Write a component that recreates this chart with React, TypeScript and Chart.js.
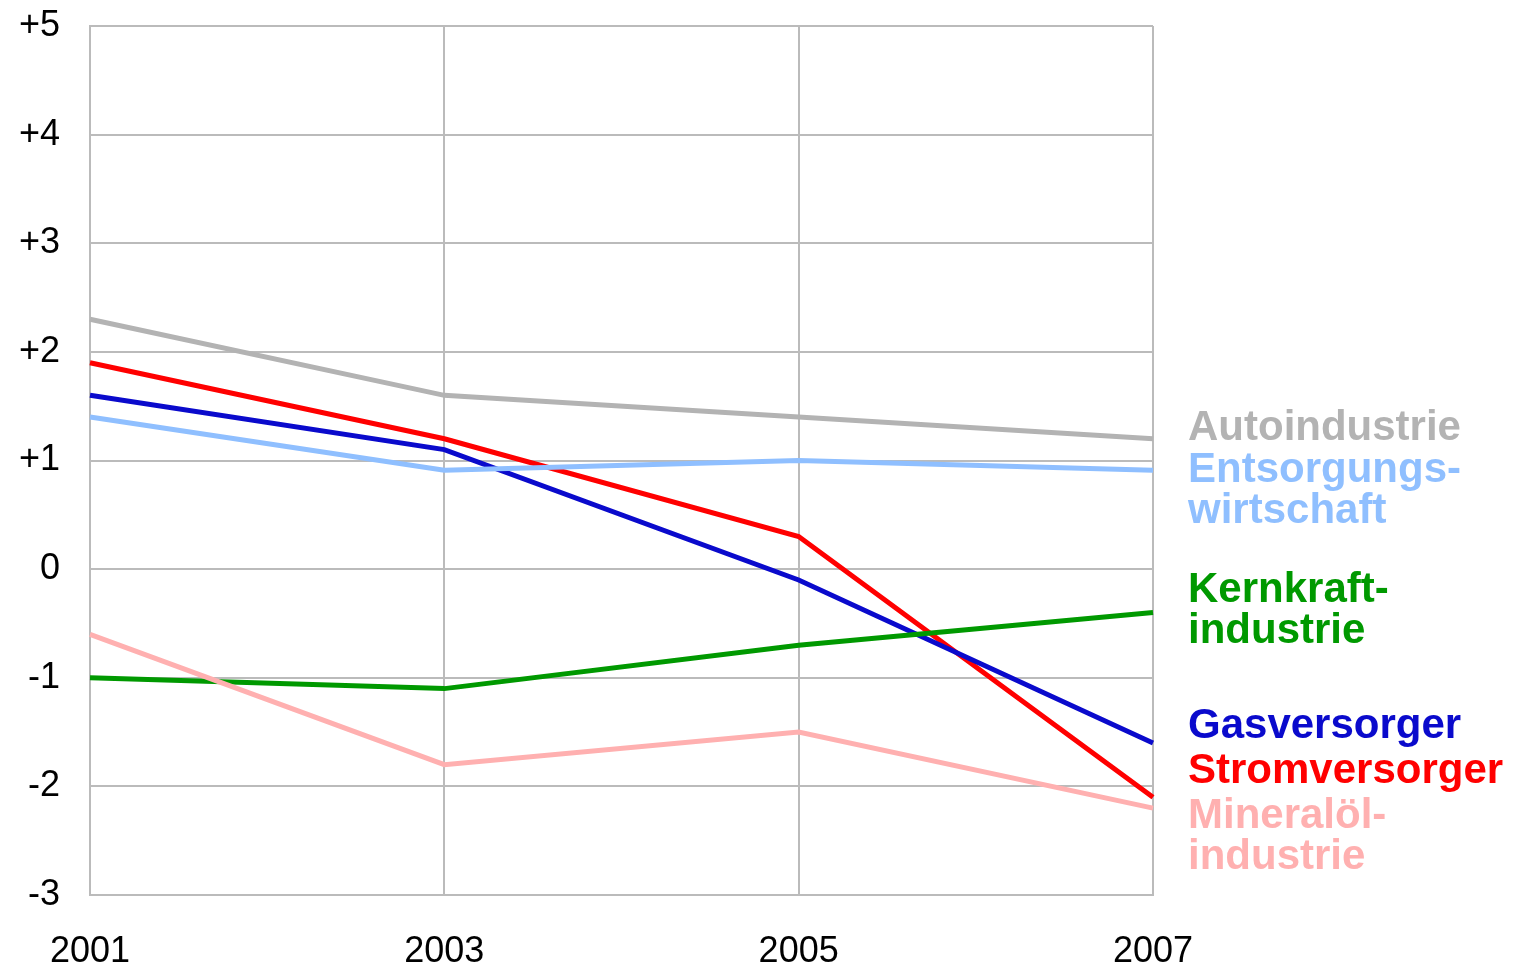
import React, { useEffect, useRef } from "react";
import { Chart, registerables } from "chart.js";

Chart.register(...registerables);

const years = ["2001", "2003", "2005", "2007"];
const autoindustrie = [2.3, 1.6, 1.4, 1.2];
const entsorgung = [1.4, 0.91, 1.0, 0.91];
const stromversorger = [1.9, 1.2, 0.3, -2.1];
const gasversorger = [1.6, 1.1, -0.1, -1.6];
const kernkraft = [-1.0, -1.1, -0.7, -0.4];
const mineraloel = [-0.6, -1.8, -1.5, -2.2];

const seriesNames = ["Autoindustrie", "Entsorgungswirtschaft", "Kernkraftindustrie", "Gasversorger", "Stromversorger", "Mineralölindustrie"];
const labelLines = [
  ["Autoindustrie"],
  ["Entsorgungs-", "wirtschaft"],
  ["Kernkraft-", "industrie"],
  ["Gasversorger"],
  ["Stromversorger"],
  ["Mineralöl-", "industrie"],
];
const colors = ["#b3b3b3", "#8fbfff", "#009900", "#0a0acc", "#ff0000", "#ffb0b0"];

export default function App() {
  const ref = useRef<HTMLCanvasElement | null>(null);
  useEffect(() => {
    if (!ref.current) return;
    const labelBaselines = [440, 482, 602, 738, 783, 828];
    const labelPlugin = {
      id: "endLabels",
      afterDraw(chart: any) {
        const ctx = chart.ctx;
        const x = chart.chartArea.right + 35;
        ctx.save();
        ctx.font = "bold 42px 'Liberation Sans', Arial, sans-serif";
        ctx.textAlign = "left";
        ctx.textBaseline = "alphabetic";
        labelLines.forEach((lines, i) => {
          ctx.fillStyle = colors[i];
          lines.forEach((t, j) => {
            ctx.fillText(t, x, labelBaselines[i] + j * 40.5);
          });
        });
        ctx.restore();
      },
    };
    const data = [autoindustrie, entsorgung, kernkraft, gasversorger, stromversorger, mineraloel];
    const drawOrder = [5, 2, 1, 0, 3, 4];
    const chart = new Chart(ref.current, {
      type: "line",
      data: {
        labels: years,
        datasets: drawOrder.map((i) => ({
          label: seriesNames[i],
          data: data[i],
          borderColor: colors[i],
          backgroundColor: colors[i],
          borderWidth: 5,
          pointRadius: 0,
          tension: 0,
          fill: false,
        })),
      },
      options: {
        animation: false,
        responsive: false,
        layout: { padding: { top: 26, right: 360, left: 0, bottom: 0 } },
        plugins: { legend: { display: false }, tooltip: { enabled: false } },
        scales: {
          x: {
            type: "category",
            offset: false,
            grid: { color: "#bbbbbb", lineWidth: 2, drawTicks: false },
            border: { color: "#bbbbbb", width: 2 },
            ticks: {
              color: "#000",
              font: { family: "'Liberation Sans', Arial, sans-serif", size: 36 },
              padding: 35,
              maxRotation: 0,
              autoSkip: false,
            },
            afterFit(scale: any) {
              scale.height = 74;
              scale.paddingLeft = 0;
              scale.paddingRight = 0;
            },
          },
          y: {
            min: -3,
            max: 5,
            grid: { color: "#bbbbbb", lineWidth: 2, drawTicks: false },
            border: { color: "#bbbbbb", width: 2 },
            ticks: {
              stepSize: 1,
              color: "#000",
              font: { family: "'Liberation Sans', Arial, sans-serif", size: 36 },
              padding: 30,
              callback: (v: any) => (v > 0 ? "+" + v : String(v)),
            },
            afterFit(scale: any) {
              scale.width = 90;
              scale.paddingTop = 0;
              scale.paddingBottom = 0;
            },
          },
        },
      },
      plugins: [labelPlugin],
    });
    return () => chart.destroy();
  }, []);
  return (
    <div style={{ position: "fixed", left: 0, top: 0, width: 1513, height: 969, background: "#fff" }}>
      <canvas ref={ref} width={1513} height={969} style={{ width: 1513, height: 969, display: "block" }} />
    </div>
  );
}
